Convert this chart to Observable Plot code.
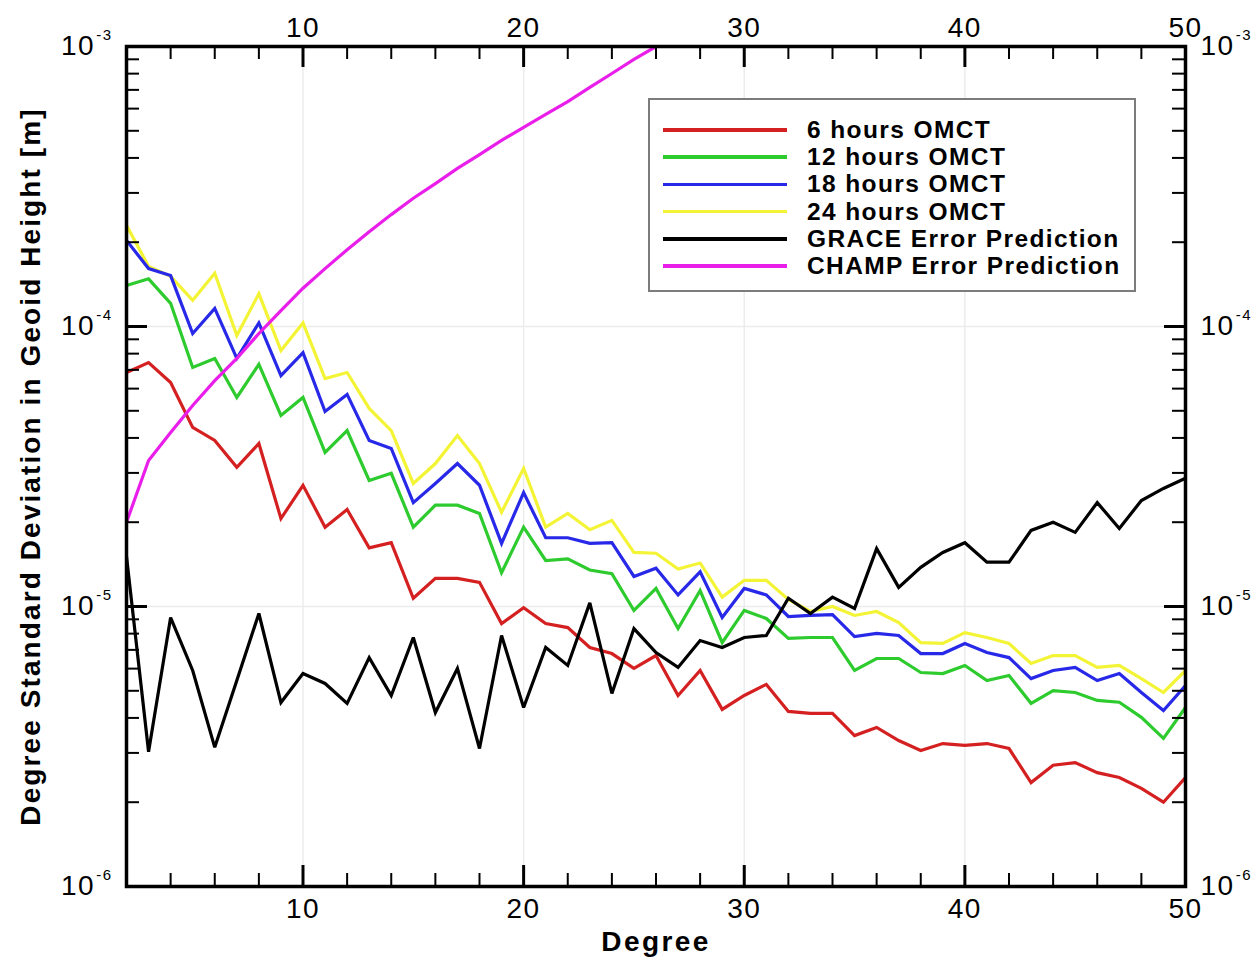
<!DOCTYPE html>
<html>
<head>
<meta charset="utf-8">
<script src="https://cdn.jsdelivr.net/npm/d3@7"></script>
<script src="https://cdn.jsdelivr.net/npm/@observablehq/plot@0.6"></script>
<style>
  html, body { margin: 0; padding: 0; background: #fff; }
  #wrap { position: relative; width: 1256px; height: 960px; font-family: "Liberation Sans", Arial, Helvetica, sans-serif; }
  #wrap svg { position: absolute; left: 0; top: 0; }
  #legend { position: absolute; left: 648px; top: 98px; width: 488px; height: 194px; border: 2px solid #7c7c7c; box-sizing: border-box; background: #fff; }
  .lg-line { position: absolute; height: 3.5px; width: 124px; }
  .lg-text { position: absolute; font-weight: bold; font-size: 24.5px; letter-spacing: 1.4px; line-height: 1; white-space: nowrap; color: #000; transform: translateY(-50%); }
</style>
</head>
<body>
<div id="wrap"></div>
<script>
// ---- data ----
const degrees = [2,3,4,5,6,7,8,9,10,11,12,13,14,15,16,17,18,19,20,21,22,23,24,25,26,27,28,29,30,31,32,33,34,35,36,37,38,39,40,41,42,43,44,45,46,47,48,49,50];

const omct6h = [6.85e-5,7.43e-5,6.31e-5,4.36e-5,3.92e-5,3.14e-5,3.82e-5,2.06e-5,2.71e-5,1.92e-5,
  2.22e-5,1.62e-5,1.69e-5,1.07e-5,1.26e-5,1.26e-5,1.22e-5,8.69e-6,9.9e-6,8.69e-6,
  8.41e-6,7.14e-6,6.79e-6,6.01e-6,6.68e-6,4.81e-6,5.91e-6,4.29e-6,4.81e-6,5.27e-6,
  4.22e-6,4.15e-6,4.15e-6,3.46e-6,3.70e-6,3.32e-6,3.06e-6,3.24e-6,3.19e-6,3.24e-6,
  3.11e-6,2.35e-6,2.71e-6,2.77e-6,2.55e-6,2.45e-6,2.24e-6,2.0e-6,2.45e-6];

const omct12h = [1.40e-4,1.48e-4,1.21e-4,7.14e-5,7.69e-5,5.58e-5,7.32e-5,4.81e-5,5.58e-5,3.55e-5,
  4.25e-5,2.82e-5,2.99e-5,1.92e-5,2.30e-5,2.30e-5,2.15e-5,1.32e-5,1.92e-5,1.46e-5,
  1.48e-5,1.35e-5,1.31e-5,9.68e-6,1.16e-5,8.34e-6,1.14e-5,7.43e-6,9.68e-6,9.06e-6,
  7.69e-6,7.75e-6,7.75e-6,5.91e-6,6.52e-6,6.52e-6,5.81e-6,5.76e-6,6.16e-6,5.44e-6,
  5.67e-6,4.51e-6,5.01e-6,4.93e-6,4.62e-6,4.55e-6,4.02e-6,3.38e-6,4.36e-6];

const omct18h = [2.03e-4,1.61e-4,1.52e-4,9.44e-5,1.16e-4,7.69e-5,1.03e-4,6.68e-5,8.07e-5,4.97e-5,
  5.72e-5,3.92e-5,3.67e-5,2.35e-5,2.75e-5,3.24e-5,2.71e-5,1.68e-5,2.55e-5,1.76e-5,
  1.76e-5,1.68e-5,1.69e-5,1.28e-5,1.37e-5,1.10e-5,1.33e-5,9.13e-6,1.16e-5,1.10e-5,
  9.21e-6,9.29e-6,9.36e-6,7.81e-6,8.01e-6,7.88e-6,6.79e-6,6.79e-6,7.38e-6,6.85e-6,
  6.57e-6,5.53e-6,5.91e-6,6.06e-6,5.44e-6,5.76e-6,4.93e-6,4.25e-6,5.22e-6];

const omct24h = [2.30e-4,1.64e-4,1.51e-4,1.24e-4,1.55e-4,9.29e-5,1.31e-4,8.21e-5,1.03e-4,6.52e-5,
  6.85e-5,5.10e-5,4.25e-5,2.75e-5,3.24e-5,4.08e-5,3.24e-5,2.17e-5,3.11e-5,1.92e-5,
  2.15e-5,1.88e-5,2.03e-5,1.56e-5,1.55e-5,1.36e-5,1.43e-5,1.08e-5,1.24e-5,1.24e-5,
  1.06e-5,9.60e-6,1.0e-5,9.29e-6,9.60e-6,8.77e-6,7.43e-6,7.38e-6,8.07e-6,7.75e-6,
  7.38e-6,6.26e-6,6.68e-6,6.68e-6,6.06e-6,6.16e-6,5.53e-6,4.93e-6,5.91e-6];

const graceError = [1.51e-5,3.03e-6,9.13e-6,5.91e-6,3.14e-6,5.44e-6,9.44e-6,4.54e-6,5.76e-6,5.31e-6,
  4.51e-6,6.57e-6,4.81e-6,7.75e-6,4.18e-6,6.01e-6,3.11e-6,7.88e-6,4.36e-6,7.14e-6,
  6.16e-6,1.03e-5,4.89e-6,8.34e-6,6.85e-6,6.06e-6,7.56e-6,7.14e-6,7.75e-6,7.88e-6,
  1.07e-5,9.44e-6,1.08e-5,9.84e-6,1.61e-5,1.17e-5,1.38e-5,1.56e-5,1.69e-5,1.44e-5,
  1.44e-5,1.87e-5,2.0e-5,1.84e-5,2.35e-5,1.90e-5,2.39e-5,2.64e-5,2.87e-5];

const champDegrees = [2,3,4,5,6,7,8,9,10,11,12,13,14,15,16,17,18,19,20,21,22,23,24,25,26,27];
const champError = [2.0e-5,3.32e-5,4.18e-5,5.22e-5,6.41e-5,7.69e-5,9.44e-5,1.14e-4,1.37e-4,1.61e-4,
  1.88e-4,2.18e-4,2.51e-4,2.87e-4,3.24e-4,3.67e-4,4.11e-4,4.62e-4,5.14e-4,5.72e-4,
  6.36e-4,7.14e-4,8.01e-4,8.99e-4,1.0e-3,1.11e-3];

const seriesNames = ["6 hours OMCT","12 hours OMCT","18 hours OMCT","24 hours OMCT","GRACE Error Prediction","CHAMP Error Prediction"];
const xTickLabels = [10,20,30,40,50];
const xMinorTicks = [4,6,8,12,14,16,18,22,24,26,28,32,34,36,38,42,44,46,48];
const xMajorTicks = [10,20,30,40];
const yDecades = [1e-6,1e-5,1e-4,1e-3];
const yMajorTicks = [1e-5,1e-4];
const yMinorTicks = [2e-6,3e-6,4e-6,5e-6,6e-6,7e-6,8e-6,9e-6,
  2e-5,3e-5,4e-5,5e-5,6e-5,7e-5,8e-5,9e-5,
  2e-4,3e-4,4e-4,5e-4,6e-4,7e-4,8e-4,9e-4];
const xTitle = "Degree";
const yTitle = "Degree Standard Deviation in Geoid Height [m]";

// ---- styling ----
const seriesColors = ["#d42020","#2ecb2e","#2828e8","#f4f436","#000000","#ea1eea"];
const W = 1256, H = 960, ML = 126, MR = 71, MT = 46, MB = 74;
const PW = W - ML - MR, PH = H - MT - MB;
const majorLen = 21, minorLen = 13;

// ---- long-format table ----
const rows = [];
[omct6h, omct12h, omct18h, omct24h, graceError].forEach((vals, i) => {
  vals.forEach((v, j) => rows.push({series: seriesNames[i], degree: degrees[j], value: v}));
});
champError.forEach((v, j) => rows.push({series: seriesNames[5], degree: champDegrees[j], value: v}));

const drawOrder = [0, 1, 3, 2, 4, 5];
const lineMarks = drawOrder.map(i => Plot.line(rows.filter(r => r.series === seriesNames[i]), {
  x: "degree", y: "value", stroke: seriesColors[i], strokeWidth: 3.2,
  strokeLinejoin: "miter", strokeMiterlimit: 3, clip: true
}));

const expFormat = d => "10^" + Math.round(Math.log10(d));

const chart = Plot.plot({
  width: W, height: H,
  marginLeft: ML, marginRight: MR, marginTop: MT, marginBottom: MB,
  style: {fontFamily: '"Liberation Sans", Arial, Helvetica, sans-serif', fontSize: "28px", background: "#fff", color: "#000"},
  x: {domain: [2, 50]},
  y: {type: "log", domain: [1e-6, 1e-3]},
  marks: [
    Plot.ruleX(xMajorTicks, {x: d => d, stroke: "#ececec", strokeWidth: 1.5}),
    Plot.ruleY(yMajorTicks, {y: d => d, stroke: "#ececec", strokeWidth: 1.5}),
    ...lineMarks,
    // inward ticks: bottom / top
    Plot.tickX(xMinorTicks, {x: d => d, insetTop: PH - minorLen, stroke: "#000", strokeWidth: 2}),
    Plot.tickX(xMinorTicks, {x: d => d, insetBottom: PH - minorLen, stroke: "#000", strokeWidth: 2}),
    Plot.tickX(xMajorTicks, {x: d => d, insetTop: PH - majorLen, stroke: "#000", strokeWidth: 3}),
    Plot.tickX(xMajorTicks, {x: d => d, insetBottom: PH - majorLen, stroke: "#000", strokeWidth: 3}),
    // inward ticks: left / right
    Plot.tickY(yMinorTicks, {y: d => d, insetRight: PW - minorLen, stroke: "#000", strokeWidth: 2}),
    Plot.tickY(yMinorTicks, {y: d => d, insetLeft: PW - minorLen, stroke: "#000", strokeWidth: 2}),
    Plot.tickY(yMajorTicks, {y: d => d, insetRight: PW - majorLen, stroke: "#000", strokeWidth: 3}),
    Plot.tickY(yMajorTicks, {y: d => d, insetLeft: PW - majorLen, stroke: "#000", strokeWidth: 3}),
    Plot.frame({stroke: "#000", strokeWidth: 3.5}),
    // tick labels
    Plot.axisX({anchor: "bottom", ticks: xTickLabels, tickSize: 0, tickPadding: 12, label: null, tickFormat: d => String(d)}),
    Plot.axisX({anchor: "top", ticks: xTickLabels, tickSize: 0, tickPadding: 10, label: null, tickFormat: d => String(d)}),
    Plot.axisY({anchor: "left", ticks: yDecades, tickSize: 0, tickPadding: 14, label: null, tickFormat: expFormat}),
    Plot.axisY({anchor: "right", ticks: yDecades, tickSize: 0, tickPadding: 15, label: null, tickFormat: expFormat}),
    // axis titles
    Plot.text([xTitle], {frameAnchor: "bottom", dy: 56, text: d => d, fontWeight: "bold", fontSize: 28, textAnchor: "middle", lineAnchor: "middle"}),
    Plot.text([yTitle], {frameAnchor: "left", dx: -95, rotate: -90, text: d => d, fontWeight: "bold", fontSize: 28, textAnchor: "middle", lineAnchor: "middle"})
  ]
});

// superscript exponents on the log axis labels
const svgNS = "http://www.w3.org/2000/svg";
chart.querySelectorAll('g[aria-label="y-axis tick label"] text').forEach(t => {
  const m = /^10\^(-?\d+)$/.exec(t.textContent);
  if (m) {
    t.textContent = "10";
    const ts = document.createElementNS(svgNS, "tspan");
    ts.setAttribute("dy", "-15");
    ts.setAttribute("font-size", "15");
    ts.setAttribute("dx", "1");
    ts.textContent = m[1];
    t.appendChild(ts);
  }
});
chart.querySelectorAll('g[aria-label$="tick label"] text').forEach(t => t.style.letterSpacing = "1.5px");
chart.querySelectorAll('text').forEach(t => {
  if (t.textContent === xTitle) t.style.letterSpacing = "2.4px";
  if (t.textContent === yTitle) t.style.letterSpacing = "2.1px";
});

const wrap = document.getElementById("wrap");
wrap.appendChild(chart);

// legend (inside the plot frame)
const legend = document.createElement("div");
legend.id = "legend";
seriesNames.forEach((name, i) => {
  const cy = 30 + i * 27.2;
  const ln = document.createElement("div");
  ln.className = "lg-line";
  ln.style.left = "13px";
  ln.style.top = (cy - 1.75) + "px";
  ln.style.background = seriesColors[i];
  const tx = document.createElement("div");
  tx.className = "lg-text";
  tx.style.left = "157px";
  tx.style.top = cy + "px";
  tx.textContent = name;
  legend.appendChild(ln);
  legend.appendChild(tx);
});
wrap.appendChild(legend);
</script>
</body>
</html>
